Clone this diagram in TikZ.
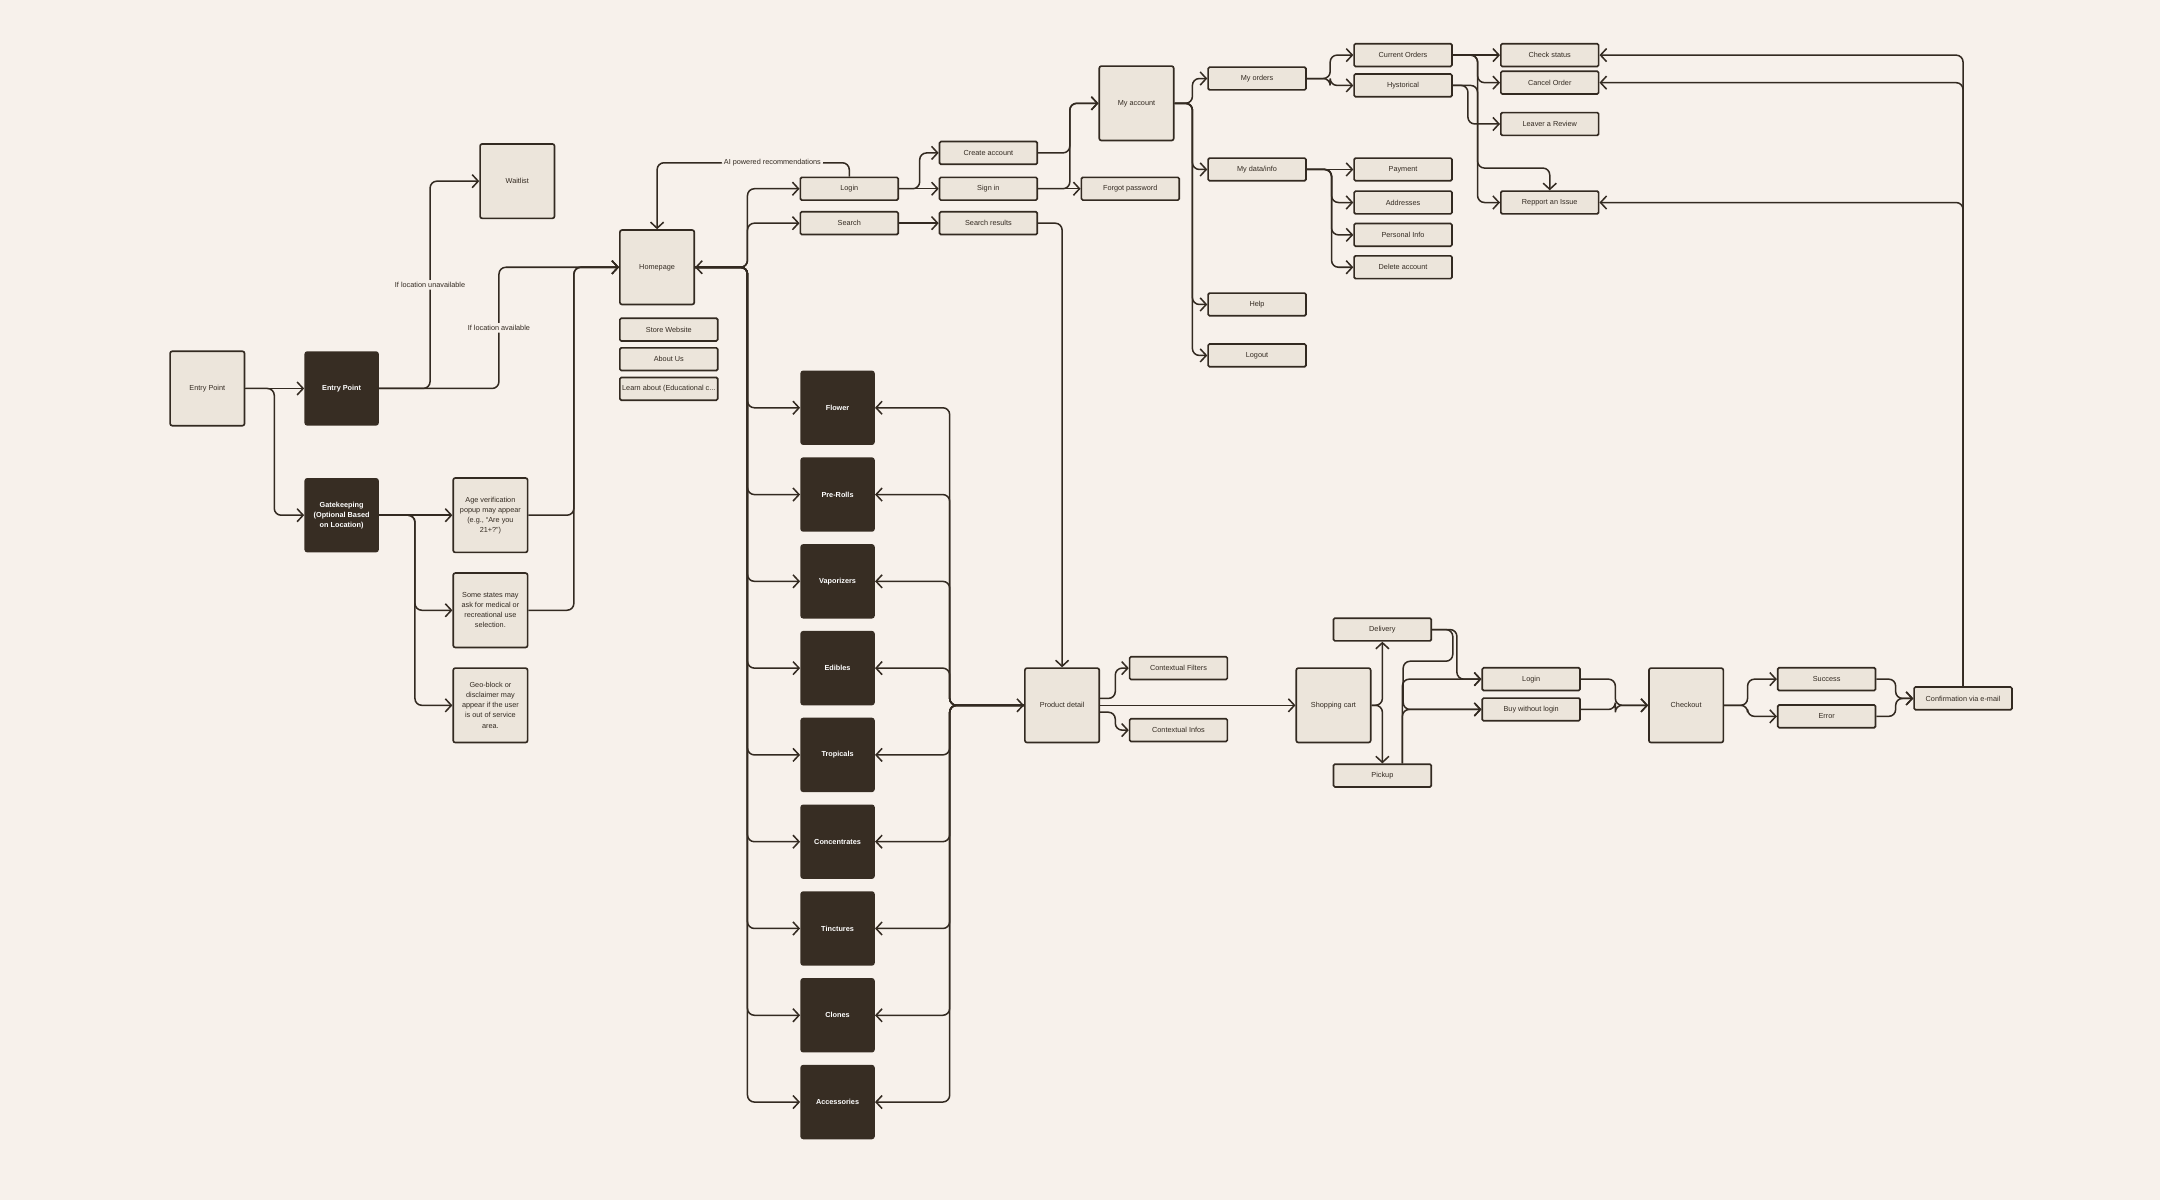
\documentclass[tikz,border=0pt]{standalone}
\usepackage{fontspec}
\setmainfont{Liberation Sans}
\usetikzlibrary{arrows.meta, positioning, calc}

\definecolor{bgcol}{HTML}{F7F1EB}
\definecolor{boxfill}{HTML}{ECE5DB}
\definecolor{ink}{HTML}{332A21}
\definecolor{darkfill}{HTML}{372D23}

\begin{document}
\begin{tikzpicture}[
    x=1pt, y=-1pt,
    every node/.style={font=\fontsize{5.3}{7.3}\selectfont, text=ink},
    sqbox/.style={
        rectangle, draw=ink, line width=1.2pt, fill=boxfill,
        rounded corners=1.5pt,
        minimum width=54pt, minimum height=54pt,
        align=center, inner sep=1pt
    },
    barbox/.style={
        rectangle, draw=ink, line width=1.2pt, fill=boxfill,
        rounded corners=1pt,
        minimum width=71pt, minimum height=16.5pt,
        align=center, inner sep=1pt
    },
    darkbox/.style={
        rectangle, fill=darkfill, rounded corners=2pt,
        minimum width=54pt, minimum height=54pt,
        align=center, text=white, font=\fontsize{5.3}{7.3}\selectfont\bfseries
    },
    lbl/.style={fill=bgcol, inner sep=1.5pt},
    arrow/.style={-{Straight Barb[length=4.4pt,width=9.5pt]}, line width=1.1pt, draw=ink, rounded corners=5pt},
    twoway/.style={arrow, {Straight Barb[length=4.4pt,width=9.5pt]}-{Straight Barb[length=4.4pt,width=9.5pt]}}
]

\fill[bgcol] (0,0) rectangle (1568,871);
\useasboundingbox (0,0) rectangle (1568,871);

% Entry and gatekeeping
\node[sqbox] (ep1) at (150.5,282) {Entry Point};
\node[darkbox] (ep2) at (248,282) {Entry Point};
\node[darkbox] (gate) at (248,374) {Gatekeeping\\(Optional Based\\on Location)};
\node[sqbox] (waitlist) at (375.5,131.5) {Waitlist};
\node[sqbox] (age) at (356,374) {Age verification\\popup may appear\\(e.g., “Are you\\21+?”)};
\node[sqbox, below=13.8pt of age] (states) {Some states may\\ask for medical or\\recreational use\\selection.};
\node[sqbox, below=13.8pt of states] (geo) {Geo-block or\\disclaimer may\\appear if the user\\is out of service\\area.};

% Homepage
\node[sqbox] (hp) at (477,194) {Homepage};
\node[barbox, below=8.8pt of hp.south west, anchor=north west] (web) {Store Website};
\node[barbox, below=3.8pt of web] (about) {About Us};
\node[barbox, below=3.8pt of about] (learn) {Learn about (Educational c...};

% Login and search
\node[barbox] (login) at (616.5,137) {Login};
\node[barbox, below=7.3pt of login] (search) {Search};
\node[barbox] (create) at (717.5,111) {Create account};
\node[barbox, right=28.8pt of login] (signin) {Sign in};
\node[barbox, right=28.8pt of search] (sres) {Search results};
\node[barbox, right=30.8pt of signin] (forgot) {Forgot password};

% Account
\node[sqbox] (myacc) at (825,75) {My account};
\node[barbox] (myorders) at (912.5,57) {My orders};
\node[barbox] (mydata) at (912.5,123) {My data/info};
\node[barbox] (help) at (912.5,221) {Help};
\node[barbox] (logout) at (912.5,258) {Logout};
\node[barbox] (current) at (1018.5,40) {Current Orders};
\node[barbox, below=4.3pt of current] (hyst) {Hystorical};
\node[barbox] (payment) at (1018.5,123) {Payment};
\node[barbox, below=6.3pt of payment] (addr) {Addresses};
\node[barbox, below=5.8pt of addr] (pinfo) {Personal Info};
\node[barbox, below=5.8pt of pinfo] (delacc) {Delete account};
\node[barbox] (check) at (1125,40) {Check status};
\node[barbox, below=2.3pt of check] (cancel) {Cancel Order};
\node[barbox] (review) at (1125,90) {Leaver a Review};
\node[barbox] (issue) at (1125,147) {Repport an Issue};

% Categories
\node[darkbox] (flower) at (608,296) {Flower};
\node[darkbox, below=8.6pt of flower] (prerolls) {Pre-Rolls};
\node[darkbox, below=8.6pt of prerolls] (vapes) {Vaporizers};
\node[darkbox, below=8.6pt of vapes] (edibles) {Edibles};
\node[darkbox, below=8.6pt of edibles] (tropicals) {Tropicals};
\node[darkbox, below=8.6pt of tropicals] (concentr) {Concentrates};
\node[darkbox, below=8.6pt of concentr] (tinctures) {Tinctures};
\node[darkbox, below=8.6pt of tinctures] (clones) {Clones};
\node[darkbox, below=8.6pt of clones] (access) {Accessories};

% Product and checkout
\node[sqbox] (pd) at (771,512) {Product detail};
\node[barbox] (filters) at (855.5,485) {Contextual Filters};
\node[barbox] (infos) at (855.5,530) {Contextual Infos};
\node[sqbox] (cart) at (968,512) {Shopping cart};
\node[barbox] (delivery) at (1003.5,457) {Delivery};
\node[barbox] (pickup) at (1003.5,563) {Pickup};
\node[barbox] (cartlogin) at (1111.5,493) {Login};
\node[barbox, below=4.3pt of cartlogin] (buy) {Buy without login};
\node[sqbox] (checkout) at (1224,512) {Checkout};
\node[barbox] (success) at (1326,493) {Success};
\node[barbox, below=9.3pt of success] (error) {Error};
\node[barbox] (conf) at (1425,507) {Confirmation via e-mail};

% Connectors: entry
\draw[arrow] (ep1.east) -- (ep2.west);
\draw[arrow] (ep1.east) -- ++(21,0) |- (gate.west);
\draw[arrow] (ep2.east) -- ++(37,0) |- node[lbl, pos=0.25] (unav) {If location unavailable} (waitlist.west);
\draw[arrow] (ep2.east) -- ++(87,0) |- node[lbl, pos=0.25] (avail) {If location available} (hp.west);
\draw[arrow] (gate.east) -- (age.west);
\draw[arrow] (gate.east) -- ++(26,0) |- (states.west);
\draw[arrow] (gate.east) -- ++(26,0) |- (geo.west);
\draw[arrow] (age.east) -- ++(33,0) |- (hp.west);
\draw[arrow] (states.east) -- ++(33,0) |- (hp.west);

% Connectors: homepage
\draw[arrow] (login.north) -- ++(0,-10) -| node[lbl, pos=0.2] (ai) {AI powered recommendations} (hp.north);
\draw[twoway] (hp.east) -- ++(38,0) |- (login.west);
\draw[arrow] (hp.east) -- ++(38,0) |- (search.west);
\draw[arrow] (hp.east) -- ++(38,0) |- (flower.west);
\draw[arrow] (hp.east) -- ++(38,0) |- (prerolls.west);
\draw[arrow] (hp.east) -- ++(38,0) |- (vapes.west);
\draw[arrow] (hp.east) -- ++(38,0) |- (edibles.west);
\draw[arrow] (hp.east) -- ++(38,0) |- (tropicals.west);
\draw[arrow] (hp.east) -- ++(38,0) |- (concentr.west);
\draw[arrow] (hp.east) -- ++(38,0) |- (tinctures.west);
\draw[arrow] (hp.east) -- ++(38,0) |- (clones.west);
\draw[arrow] (hp.east) -- ++(38,0) |- (access.west);

% Connectors: categories and product detail
\draw[twoway] (pd.west) -- ++(-54,0) |- (flower.east);
\draw[arrow] (pd.west) -- ++(-54,0) |- (prerolls.east);
\draw[arrow] (pd.west) -- ++(-54,0) |- (vapes.east);
\draw[arrow] (pd.west) -- ++(-54,0) |- (edibles.east);
\draw[arrow] (pd.west) -- ++(-54,0) |- (tropicals.east);
\draw[arrow] (pd.west) -- ++(-54,0) |- (concentr.east);
\draw[arrow] (pd.west) -- ++(-54,0) |- (tinctures.east);
\draw[arrow] (pd.west) -- ++(-54,0) |- (clones.east);
\draw[arrow] (pd.west) -- ++(-54,0) |- (access.east);

% Connectors: login and search
\draw[arrow] (login.east) -- ++(15,0) |- (create.west);
\draw[arrow] (login.east) -- (signin.west);
\draw[arrow] (search.east) -- (sres.west);
\draw[arrow] (create.east) -- ++(23,0) |- (myacc.west);
\draw[arrow] (signin.east) -- ++(23,0) |- (myacc.west);
\draw[arrow] (signin.east) -- (forgot.west);
\draw[arrow] (sres.east) -| (pd.north);

% Connectors: account
\draw[arrow] (myacc.east) -- ++(13,0) |- (myorders.west);
\draw[arrow] (myacc.east) -- ++(13,0) |- (mydata.west);
\draw[arrow] (myacc.east) -- ++(13,0) |- (help.west);
\draw[arrow] (myacc.east) -- ++(13,0) |- (logout.west);
\draw[arrow] (myorders.east) -- ++(17,0) |- (current.west);
\draw[arrow] (myorders.east) -- ++(17,0) |- (hyst.west);
\draw[arrow] (mydata.east) -- (payment.west);
\draw[arrow] (mydata.east) -- ++(18,0) |- (addr.west);
\draw[arrow] (mydata.east) -- ++(18,0) |- (pinfo.west);
\draw[arrow] (mydata.east) -- ++(18,0) |- (delacc.west);
\draw[arrow] (current.east) -- (check.west);
\draw[arrow] (current.east) -- ++(18,0) |- (cancel.west);
\draw[arrow] (current.east) -- ++(18,0) |- (issue.west);
\draw[arrow] (hyst.east) -- ++(11,0) |- (review.west);
\draw[arrow] (hyst.east) -- ++(18,0) -- ++(0,60) -| (issue.north);

% Connectors: shopping flow
\draw[arrow] ([yshift=5pt]pd.east) -- ++(11,0) |- (filters.west);
\draw[arrow] ([yshift=-5pt]pd.east) -- ++(11,0) |- (infos.west);
\draw[arrow] (pd.east) -- (cart.west);
\draw[arrow] (cart.east) -| (delivery.south);
\draw[arrow] (cart.east) -| (pickup.north);
\draw[arrow] (delivery.east) -- ++(18,0) |- (cartlogin.west);
\draw[arrow] (delivery.east) -- ++(15,0) |- ++(-36,23) |- (buy.west);
\draw[arrow] ([xshift=14.5pt]pickup.north) |- (cartlogin.west);
\draw[arrow] ([xshift=14.5pt]pickup.north) |- (buy.west);
\draw[arrow] (cartlogin.east) -- ++(25,0) |- (checkout.west);
\draw[arrow] (buy.east) -- ++(25,0) |- (checkout.west);
\draw[arrow] (checkout.east) -- ++(17,0) |- (success.west);
\draw[arrow] (checkout.east) -- ++(17,0) |- (error.west);
\draw[arrow] (success.east) -- ++(14,0) |- (conf.west);
\draw[arrow] (error.east) -- ++(14,0) |- (conf.west);

% Confirmation back to orders
\draw[arrow] (conf.north) |- (check.east);
\draw[arrow] (conf.north) |- (cancel.east);
\draw[arrow] (conf.north) |- (issue.east);

\end{tikzpicture}
\end{document}
